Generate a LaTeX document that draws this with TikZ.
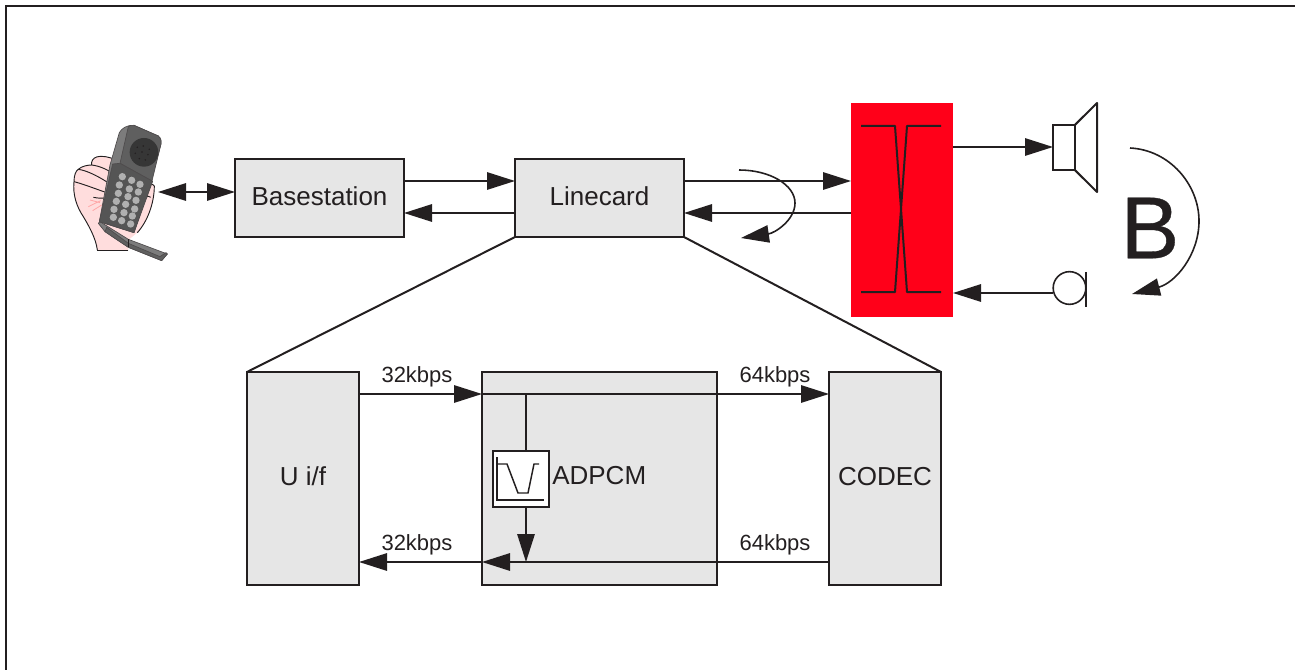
\documentclass[tikz,border=0pt]{standalone}
\usepackage{fontspec}
\setmainfont{Liberation Sans}
\newfontfamily\heavyface[FakeBold=0.4]{Liberation Sans}
\usetikzlibrary{arrows.meta}
\definecolor{ink}{HTML}{231F20}
\definecolor{boxgray}{HTML}{E6E6E6}
\definecolor{redbox}{HTML}{FF0019}
\definecolor{skin}{HTML}{FFDDDD}
\definecolor{phoneface}{HTML}{5F5F5F}
\definecolor{phonestrip}{HTML}{7C7C7C}
\definecolor{phonekeys}{HTML}{555555}
\definecolor{grille}{HTML}{363636}
\definecolor{keygray}{HTML}{B0B0B0}
\tikzset{
  px/.style={x=0.75pt,y=-0.75pt},
  tip/.style={-{Triangle[length=21pt,width=13pt]}},
  wire/.style={draw=ink,line width=1.5pt},
  flow/.style={wire,tip},
  flowboth/.style={wire,{Triangle[length=21pt,width=13pt]}-{Triangle[length=21pt,width=13pt]}},
  block/.style={draw=ink,line width=1.5pt,fill=boxgray,inner sep=0pt,outer sep=0pt,text=ink,text height=14pt,text depth=3pt,font=\fontsize{19.5}{22}\selectfont},
  rate/.style={text=ink,inner sep=0pt,font=\fontsize{16.5}{19}\selectfont},
  fine/.style={draw=ink,line width=0.7pt},
  outline/.style={draw=ink!80,line width=0.5pt,line join=round},
}
\begin{document}
\begin{tikzpicture}[px]
\useasboundingbox (0,0) rectangle (1295,670);
\draw[ink,line width=1.5pt] (6,670) -- (6,6) -- (1295,6);

% telephone, coordinates in a 3x crop of the picture
\begin{scope}[shift={(60,110)},scale=0.3333]
  % hand
  \fill[skin] (112,420) .. controls (108,385) and (85,345) .. (70,320)
     .. controls (50,290) and (38,255) .. (42,215)
     .. controls (42,195) and (48,182) .. (55,178)
     .. controls (65,168) and (85,165) .. (95,165)
     .. controls (92,142) and (115,128) .. (170,150)
     -- (255,230) .. controls (265,222) and (280,220) .. (283,228)
     .. controls (283,280) and (262,335) .. (232,368)
     -- (205,390) -- (205,420) -- cycle;
  \draw[fine] (112,420) .. controls (108,385) and (85,345) .. (70,320)
     .. controls (50,290) and (38,255) .. (42,215)
     .. controls (42,195) and (48,182) .. (55,178)
     .. controls (65,168) and (85,165) .. (95,165)
     .. controls (92,142) and (115,128) .. (170,150);
  \draw[fine] (255,230) .. controls (265,222) and (280,220) .. (283,228)
     .. controls (283,280) and (262,335) .. (232,368);
  \draw[fine] (205,420) -- (112,420);
  \draw[fine] (95,165) .. controls (120,168) and (145,180) .. (160,192);
  \draw[fine] (55,178) .. controls (85,182) and (125,205) .. (150,222);
  \draw[fine] (42,215) .. controls (70,222) and (110,238) .. (140,248);
  \draw[fine] (100,262) .. controls (115,265) and (125,265) .. (137,264);
  \draw[fine] (255,262) .. controls (262,258) and (270,258) .. (272,262);
  \draw[red!35,line width=0.6pt] (85,290) -- (122,272) (98,302) -- (125,285) (90,270) -- (120,278);
  % flap
  \fill[phonestrip,outline]
     (115,340) -- (135,365) -- (205,412) -- (305,452) -- (322,432) -- (205,388) -- (120,335) -- cycle;
  \fill[phoneface,outline]
     (135,365) -- (205,412) -- (305,452) -- (322,432) -- (318,428) -- (300,440) -- (205,400) -- (140,352) -- cycle;
  \draw[ink,line width=0.7pt] (205,388) -- (205,412);
  % body
  \fill[phonestrip,outline]
     (118,335) -- (150,165) -- (178,68) .. controls (185,55) and (200,45) .. (222,46)
     -- (295,78) .. controls (303,85) and (305,95) .. (303,102)
     -- (272,215) -- (222,368) -- cycle;
  \fill[phoneface,outline]
     (205,50) .. controls (208,46) and (215,45) .. (222,46)
     -- (295,78) .. controls (303,85) and (305,95) .. (303,102)
     -- (276,213) -- (180,160) -- cycle;
  \fill[phonekeys,outline]
     (158,162) -- (180,160) -- (278,214) -- (222,368) -- (118,335) -- cycle;
  \fill[grille] (252,127) circle (43);
  \foreach \a/\b in {232/112,250/108,268/118,226/130,246/126,264/134,238/146,256/150}
    \fill[ink] (\a,\b) circle (2.5);
  \foreach \a/\b in {187/200,215/211,240/223,178/225,208/237,235/246,
                     175/250,204/260,228/271,169/274,197/283,224/297,
                     162/298,192/308,217/318,160/322,185/332,212/342}
    \fill[keygray] (\a,\b) circle (11);
\end{scope}

% blocks
\node[block,minimum width=126.75pt,minimum height=58.5pt] (base) at (319.5,198) {Basestation};
\node[block,minimum width=126.75pt,minimum height=58.5pt] (line) at (599.5,198) {Linecard};
\node[fill=redbox,minimum width=76.5pt,minimum height=160.5pt,inner sep=0pt,outer sep=0pt] (hybrid) at (902,210) {};
\node[block,minimum width=84pt,minimum height=159.75pt] (uif) at (303,478.5) {U i/f};
\node[block,minimum width=176.25pt,minimum height=159.75pt] (adpcm) at (599.5,478.5) {};
\node[block,minimum width=84pt,minimum height=159.75pt] (codec) at (885,478.5) {CODEC};
\node[text=ink,inner sep=0pt,anchor=west,font=\fontsize{19.5}{22}\selectfont] (adpcmlabel) at (552,476) {ADPCM};

% phone port, speaker, microphone
\coordinate (phoneport) at (158,192);
\node[draw=ink,fill=white,line width=1.5pt,minimum width=16.5pt,minimum height=34pt,inner sep=0pt,outer sep=0pt] (spk) at (1064,147.5) {};
\draw[wire,line join=round] (spk.north east) -- (1097,103) -- (1097,192) -- (spk.south east);
\node[draw=ink,circle,line width=1.2pt,minimum size=24.5pt,inner sep=0pt,outer sep=0pt] (mic) at (1069.5,288) {};
\coordinate (mictop) at (1086,272);
\coordinate (micbot) at (1086,307);
\draw[ink,line width=1pt] (mictop) -- (micbot);

% top connectors
\draw[flowboth] (phoneport) -- (base.west |- phoneport);
\draw[flow] ([yshift=12.75pt]base.east) -- ([yshift=12.75pt]line.west);
\draw[flow] ([yshift=-11.25pt]line.west) -- ([yshift=-11.25pt]base.east);
\coordinate (h1) at (hybrid.west |- 0,181);
\coordinate (h2) at (hybrid.west |- 0,213);
\draw[flow] (line.east |- h1) -- (h1);
\draw[flow] (h2) -- (line.east |- h2);
\coordinate (h3) at (hybrid.east |- 0,147);
\draw[flow] (h3) -- (spk.west |- h3);
\coordinate (m1) at (mic.west |- 0,293);
\draw[flow] (m1) -- (hybrid.east |- m1);

% echo arcs
\coordinate (e1s) at (739,170);
\coordinate (e1e) at (741,238);
\draw[wire,line width=1.2pt,tip] (e1s) .. controls (770,170) and (795,185) .. (795,203)
   .. controls (795,220) and (775,233) .. (e1e);
\coordinate (e2s) at (1130,148);
\coordinate (e2e) at (1132,294);
\draw[wire,line width=1.2pt,tip] (e2s) .. controls (1170,150) and (1199,185) .. (1199,221)
   .. controls (1199,255) and (1175,283) .. (e2e);
\node[text=ink,inner sep=0pt,font=\heavyface\fontsize{66}{70}\selectfont] (blabel) at (1150,228) {B};

% hybrid crossing
\coordinate (x1) at (861,126); \coordinate (x2) at (895,126); \coordinate (x3) at (907,292); \coordinate (x4) at (941,292);
\coordinate (y1) at (861,292); \coordinate (y2) at (895,292); \coordinate (y3) at (907,126); \coordinate (y4) at (941,126);
\draw[wire,line join=round] (x1) -- (x2) -- (x3) -- (x4);
\draw[wire,line join=round] (y1) -- (y2) -- (y3) -- (y4);

% zoom lines
\draw[wire] (line.south west) -- (uif.north west);
\draw[wire] (line.south east) -- (codec.north east);

% lower connectors
\coordinate (ua) at (uif.east |- 0,394);
\coordinate (ub) at (uif.east |- 0,562);
\coordinate (t) at (526,394);
\coordinate (tb) at (526,562);
\draw[flow] (ua) -- (adpcm.west |- ua);
\draw[flow] (adpcm.west |- ua) -- (codec.west |- ua);
\draw[flow] (codec.west |- ub) -- (adpcm.west |- ub);
\draw[flow] (adpcm.west |- ub) -- (ub);
\node[draw=ink,fill=white,line width=1.2pt,minimum size=42pt,inner sep=0pt,outer sep=0pt] (filt) at (521,479) {};
\draw[wire] (t) -- (t |- filt.north);
\draw[flow] (t |- filt.south) -- (tb);
% filter curve
\coordinate (f1) at (497,457); \coordinate (f2) at (497,500); \coordinate (f3) at (544,500);
\draw[ink,line width=1.1pt] (f1) -- (f2) -- (f3);
\coordinate (g1) at (497,464); \coordinate (g2) at (507,464); \coordinate (g3) at (518,493); \coordinate (g4) at (528,493); \coordinate (g5) at (534,464); \coordinate (g6) at (539,464);
\draw[ink,line width=1.1pt] (g1) -- (g2) -- (g3) -- (g4) -- (g5) -- (g6);

% rate labels
\node[rate] (r1) at (417,377) {32kbps};
\node[rate] (r2) at (775,377) {64kbps};
\node[rate] (r3) at (417,545) {32kbps};
\node[rate] (r4) at (775,545) {64kbps};
\end{tikzpicture}
\end{document}
